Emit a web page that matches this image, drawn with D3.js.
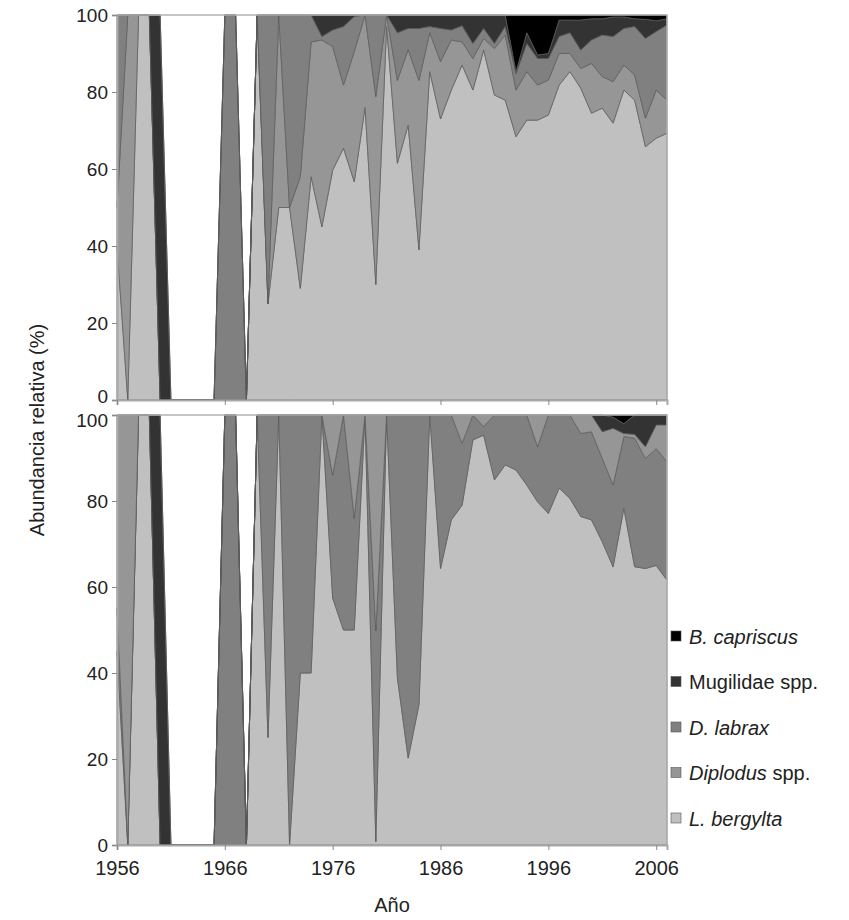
<!DOCTYPE html>
<html>
<head>
<meta charset="utf-8">
<script src="https://cdn.jsdelivr.net/npm/d3@7"></script>
<style>
  body { margin: 0; background: #fff; }
  text { font-family: "Liberation Sans", Arial, sans-serif; fill: #222; }
</style>
</head>
<body>
<svg id="svg"></svg>
<script>
// years on the category axis
const years = [1956,1957,1958,1959,1960,1961,1962,1963,1964,1965,1966,1967,1968,1969,1970,1971,1972,1973,1974,1975,
  1976,1977,1978,1979,1980,1981,1982,1983,1984,1985,1986,1987,1988,1989,1990,1991,1992,1993,1994,1995,
  1996,1997,1998,1999,2000,2001,2002,2003,2004,2005,2006,2007];

const xTicks = [1956, 1966, 1976, 1986, 1996, 2006];
const yTicks = [0, 20, 40, 60, 80, 100];

// upper panel (%)
const topLb   = [40,0,100,100,0,0,0,0,0,0,0,0,0,100,25,50,50,29,58,45,59.7,65.4,56.7,76,30,97,61.5,71.4,39,85.3,73,80.5,87,80.5,90.9,79.2,77.9,68.4,72.7,72.7,74,81.8,85.3,81,74.5,75.8,71.9,80.5,77.9,65.8,68,69.3];
const topDip  = [10,100,0,0,0,0,0,0,0,0,0,0,0,0,0,50,0,29,35,48.5,32.1,16.4,33.8,24,48.8,3,21.5,19.6,44,10.1,14.9,13,6,8.2,3,12.1,16.9,12.1,12.6,9.1,9.1,8.2,4.7,5.1,12.9,8.2,10.8,6.5,6.5,7.4,12.5,8.6];
const topLab  = [50,0,0,0,0,0,0,0,0,0,100,100,0,0,75,0,50,42,7,0.9,4.3,15.2,9.1,0,21.2,0,12.4,5.5,13.5,1.6,8.6,2.6,4.2,3.9,2.6,1.3,2.2,4.3,7.3,6.9,5.6,4.4,5.4,4.8,6.1,10.8,11.7,9.5,12.6,20.7,15.2,19.5];
const topMug  = [0,0,0,0,100,0,0,0,0,0,0,0,0,0,0,0,0,0,0,5.6,3.9,3,0.4,0,0,0,4.6,3.5,3.5,3,3.5,3.9,2.8,7.4,3.5,7.4,3,0.5,2.8,0.9,1.3,4.3,3.3,7.8,5.5,4.2,5.1,3,2,5,2.8,1.6];
const topBcap = [0,0,0,0,0,0,0,0,0,0,0,0,0,0,0,0,0,0,0,0,0,0,0,0,0,0,0,0,0,0,0,0,0,0,0,0,0,14.7,4.6,10.4,10,1.3,1.3,1.3,1,1,0.5,0.5,1,1.1,1.5,1];

// lower panel (%)
const botLb   = [45,0,100,100,0,0,0,0,0,0,0,0,0,100,25,100,0,40,40,100,57.4,50,50,100,0.8,100,38.9,20.2,32.6,100,64.3,75.6,79,94.2,95.3,84.9,88.4,87.2,83.7,79.8,77.1,83,80.6,76.4,75.6,70.5,64.7,78.3,64.7,64.3,65,61.6];
const botLab  = [10,0,0,0,0,0,0,0,0,0,100,100,0,0,75,0,100,60,60,0,28.6,50,26,0,49,0,61.1,79.8,67.4,0,35.7,24.4,14.4,5.8,2,15.1,11.6,12.8,16.3,12.8,22.9,17,19.4,19.3,20.5,19.4,19,16.7,29.9,25.6,27.2,27.5];
const botDip  = [45,100,0,0,0,0,0,0,0,0,0,0,0,0,0,0,0,0,0,0,14,0,24,0,50.2,0,0,0,0,0,0,0,6.6,0,2.7,0,0,0,0,7.4,0,0,0,4.3,3.9,6.2,13.2,0.7,0.9,2.7,5.5,8.6];
const botMug  = [0,0,0,0,100,0,0,0,0,0,0,0,0,0,0,0,0,0,0,0,0,0,0,0,0,0,0,0,0,0,0,0,0,0,0,0,0,0,0,0,0,0,0,0,0,3.9,2.6,2.3,4.5,7.4,2.3,2.3];
const botBcap = [0,0,0,0,0,0,0,0,0,0,0,0,0,0,0,0,0,0,0,0,0,0,0,0,0,0,0,0,0,0,0,0,0,0,0,0,0,0,0,0,0,0,0,0,0,0,0.5,2,0,0,0,0];

const colors = { lb: "#c0c0c0", dip: "#969696", lab: "#808080", mug: "#333333", bcap: "#000000" };

const svg = d3.select("#svg")
    .attr("width", 849)
    .attr("height", 920);

const xScale = d3.scaleLinear()
    .domain([1956, 2007])
    .range([117, 667]);

function rowsOf(lb, dip, lab, mug, bcap) {
  return years.map(function(y, i) {
    return { year: y, lb: lb[i], dip: dip[i], lab: lab[i], mug: mug[i], bcap: bcap[i] };
  });
}

function drawPanel(rows, order, yTop, yBottom, isLower) {
  const yScale = d3.scaleLinear()
      .domain([0, 100])
      .range([yBottom, yTop]);

  const series = d3.stack().keys(order)(rows);

  const area = d3.area()
      .x(function(d) { return xScale(d.data.year); })
      .y0(function(d) { return yScale(d[0]); })
      .y1(function(d) { return yScale(d[1]); });

  const g = svg.append("g");

  g.selectAll(".layer")
      .data(series)
      .enter().append("path")
      .attr("class", "layer")
      .attr("fill", function(d) { return colors[d.key]; })
      .attr("stroke", "#5a5a5a")
      .attr("stroke-width", 0.7)
      .attr("stroke-linejoin", "round")
      .attr("d", area);

  // frame (top / right)
  g.append("path")
      .attr("d", "M" + xScale.range()[0] + "," + yTop + "H" + xScale.range()[1] + "V" + yBottom)
      .attr("fill", "none")
      .attr("stroke", "#b4b4b4")
      .attr("stroke-width", 1.5);

  const yAxis = g.append("g")
      .attr("transform", "translate(" + xScale.range()[0] + ",0)")
      .call(d3.axisLeft(yScale).tickValues(yTicks).tickSize(5).tickPadding(4));

  const xAxis = g.append("g")
      .attr("transform", "translate(0," + yBottom + ")")
      .call(d3.axisBottom(xScale).tickValues(xTicks).tickSize(5).tickPadding(11)
        .tickFormat(isLower ? d3.format("d") : ""));

  [yAxis, xAxis].forEach(function(ax) {
    ax.select(".domain").attr("stroke", "#a8a8a8").attr("stroke-width", 2);
    ax.selectAll(".tick line").attr("stroke", "#8a8a8a");
    ax.selectAll(".tick text").attr("fill", "#222")
      .style("font-family", "'Liberation Sans', Arial, sans-serif");
  });
  yAxis.selectAll(".tick text").style("font-size", "19px");
  xAxis.selectAll(".tick text").style("font-size", "20px");

  // the 0 of the upper panel and the 100 of the lower one sit very close
  yAxis.selectAll(".tick text")
      .filter(function(d) { return isLower ? d === 100 : d === 0; })
      .attr("dy", isLower ? "0.62em" : "0.12em");
}

drawPanel(rowsOf(topLb, topDip, topLab, topMug, topBcap), ["lb", "dip", "lab", "mug", "bcap"], 15, 400, false);
drawPanel(rowsOf(botLb, botDip, botLab, botMug, botBcap), ["lb", "lab", "dip", "mug", "bcap"], 415, 845, true);

// axis titles
svg.append("text")
    .attr("transform", "translate(44,430) rotate(-90)")
    .attr("text-anchor", "middle")
    .style("font-size", "20px")
    .text("Abundancia relativa (%)");

svg.append("text")
    .attr("x", 392)
    .attr("y", 912)
    .attr("text-anchor", "middle")
    .style("font-size", "20px")
    .text("Año");

// legend, top entry = top of the stack
const legendItems = [
  { key: "bcap", parts: [["B. capriscus", true]] },
  { key: "mug", parts: [["Mugilidae spp.", false]] },
  { key: "lab", parts: [["D. labrax", true]] },
  { key: "dip", parts: [["Diplodus", true], [" spp.", false]] },
  { key: "lb", parts: [["L. bergylta", true]] }
];

const legend = svg.append("g")
    .attr("transform", "translate(671,636)");

const item = legend.selectAll(".item")
    .data(legendItems)
    .enter().append("g")
    .attr("class", "item")
    .attr("transform", function(d, i) { return "translate(0," + (i * 45.5) + ")"; });

item.append("rect")
    .attr("x", 0)
    .attr("y", -5)
    .attr("width", 10)
    .attr("height", 10)
    .attr("fill", function(d) { return colors[d.key]; })
    .attr("stroke", "#555")
    .attr("stroke-width", 0.6);

item.append("text")
    .attr("x", 18)
    .attr("y", 7.5)
    .style("font-size", "20px")
    .selectAll("tspan")
    .data(function(d) { return d.parts; })
    .enter().append("tspan")
    .style("font-style", function(p) { return p[1] ? "italic" : "normal"; })
    .text(function(p) { return p[0]; });
</script>
</body>
</html>
